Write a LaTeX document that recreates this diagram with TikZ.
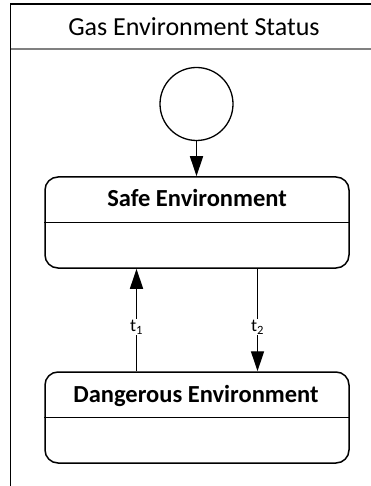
\documentclass[tikz,border=0pt]{standalone}
\usepackage{fontspec}
\setmainfont{Carlito}
\usetikzlibrary{arrows.meta}

\tikzset{
  x=1pt, y=1pt,
  frameline/.style={line width=1.3pt, black},
  headline/.style={line width=2pt, black!50},
  statebox/.style={draw, line width=1.5pt, rounded corners=13pt,
    minimum width=304pt, minimum height=91pt, inner sep=0pt},
  statename/.style={font=\fontsize{24.5}{28}\selectfont\bfseries, anchor=base, inner sep=0pt},
  initstate/.style={draw, circle, line width=1.3pt, minimum size=73pt, inner sep=0pt},
  trans/.style={line width=1.3pt, -{Triangle[length=20pt,width=13pt]}},
  translabel/.style={font=\fontsize{18}{20}\selectfont, fill=white, inner sep=1pt},
}

\begin{document}
\begin{tikzpicture}
  \useasboundingbox (0,0) rectangle (371,-486);

  % diagram frame with title compartment
  \coordinate (fbl) at (10.7,-486);
  \coordinate (ftl) at (10.7,-4);
  \coordinate (ftr) at (371,-4);
  \coordinate (hl) at (10.7,-49.5);
  \coordinate (hr) at (371,-49.5);
  \draw[frameline] (fbl) -- (ftl) -- (ftr);
  \draw[headline] (hl) -- (hr);
  \node[font=\fontsize{26}{30}\selectfont, anchor=base, inner sep=0pt] (title) at (194,-35.5) {Gas Environment Status};

  % initial pseudo-state
  \node[initstate] (init) at (196.5,-104) {};

  % states
  \node[statebox] (safe) at (197,-222.5) {};
  \draw[line width=1.5pt] (safe.west) -- (safe.east);
  \node[statename] (safename) at (197,-206.5) {Safe Environment};

  \node[statebox] (danger) at (197,-417.5) {};
  \draw[line width=1.5pt] (danger.west) -- (danger.east);
  \node[statename] (dangername) at (196,-402) {Dangerous Environment};

  % transitions
  \draw[trans] (init) -- (safe.north -| init);
  \coordinate (t1x) at (136.5,0);
  \coordinate (t2x) at (257.5,0);
  \draw[trans] (danger.north -| t1x) -- node[translabel, pos=0.43] {t\textsubscript{1}} (safe.south -| t1x);
  \draw[trans] (safe.south -| t2x) -- node[translabel, pos=0.57] {t\textsubscript{2}} (danger.north -| t2x);
\end{tikzpicture}
\end{document}
